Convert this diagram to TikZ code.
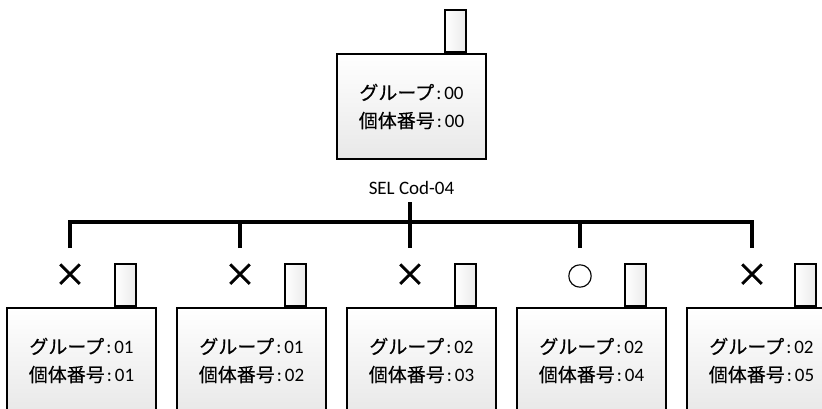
\documentclass[tikz,border=0pt]{standalone}
\usepackage{fontspec}
\setmainfont{Carlito}
\newfontfamily\jp[FakeBold=0.3]{Noto Sans CJK JP}
\newfontfamily\jpmark[FakeBold=2.2]{Noto Sans CJK JP}
\usetikzlibrary{positioning}
\tikzset{
  unit/.style={draw, line width=2pt, top color=white, bottom color=black!9,
    minimum width=149pt, minimum height=105pt, align=center,
    font=\fontsize{19}{28}\selectfont, inner sep=0pt},
  ant/.style={draw, line width=2pt, left color=white, right color=black!8,
    minimum width=21pt, minimum height=42pt, inner sep=0pt, anchor=south},
  res/.style={font=\jpmark\fontsize{32}{32}\selectfont, inner sep=0pt},
  ok/.style={font=\jp\fontsize{26}{26}\selectfont, inner sep=0pt},
  bus/.style={line width=4pt},
}
\newcommand{\idtext}[2]{{\jp グループ}\kern2pt:\kern3pt#1\\{\jp 個体番号}\kern2pt:\kern3pt#2}

\begin{document}
\begin{tikzpicture}[x=1pt,y=1pt,node distance=170pt,on grid]
    \clip (0,0) rectangle (822,408);
    \useasboundingbox (0,0) rectangle (822,408);

    \node[unit] (root) at (411.5,301.5) {\idtext{00}{00}};
    \node[unit] (u3) at (421.5,47.5) {\idtext{02}{03}};
    \node[unit] (u2) [left=of u3] {\idtext{01}{02}};
    \node[unit] (u1) [left=of u2] {\idtext{01}{01}};
    \node[unit] (u4) [right=of u3] {\idtext{02}{04}};
    \node[unit] (u5) [right=of u4] {\idtext{02}{05}};

    \node[ant] (a0) at ([xshift=-32pt]root.north east) {};
    \node[ant] (a1) at ([xshift=-32pt]u1.north east) {};
    \node[ant] (a2) at ([xshift=-32pt]u2.north east) {};
    \node[ant] (a3) at ([xshift=-32pt]u3.north east) {};
    \node[ant] (a4) at ([xshift=-32pt]u4.north east) {};
    \node[ant] (a5) at ([xshift=-32pt]u5.north east) {};

    \node (sel) at ([yshift=-28pt]root.south) {\fontsize{19}{22}\selectfont SEL Cod-04};

    \node[res] (r1) at ([shift={(-11.5,32)}]u1.north) {×};
    \node[res] (r2) at ([shift={(-11.5,32)}]u2.north) {×};
    \node[res] (r3) at ([shift={(-11.5,32)}]u3.north) {×};
    \node[ok]  (r4) at ([shift={(-11.5,31)}]u4.north) {○};
    \node[res] (r5) at ([shift={(-9.5,32)}]u5.north) {×};

    % bus
    \coordinate (d1) at ([shift={(-11.5,59)}]u1.north);
    \coordinate (d2) at ([shift={(-11.5,59)}]u2.north);
    \coordinate (d3) at ([shift={(-11.5,59)}]u3.north);
    \coordinate (d4) at ([shift={(-11.5,59)}]u4.north);
    \coordinate (d5) at ([shift={(-9.5,59)}]u5.north);
    \coordinate (hub) at ([yshift=26pt]d3);
    \coordinate (top) at ([yshift=46pt]d3);
    \draw[bus] (d1) |- (hub) -| (d5);
    \draw[bus] (d2) -- (d2 |- hub);
    \draw[bus] (d4) -- (d4 |- hub);
    \draw[bus] (top) -- (d3);
\end{tikzpicture}
\end{document}
